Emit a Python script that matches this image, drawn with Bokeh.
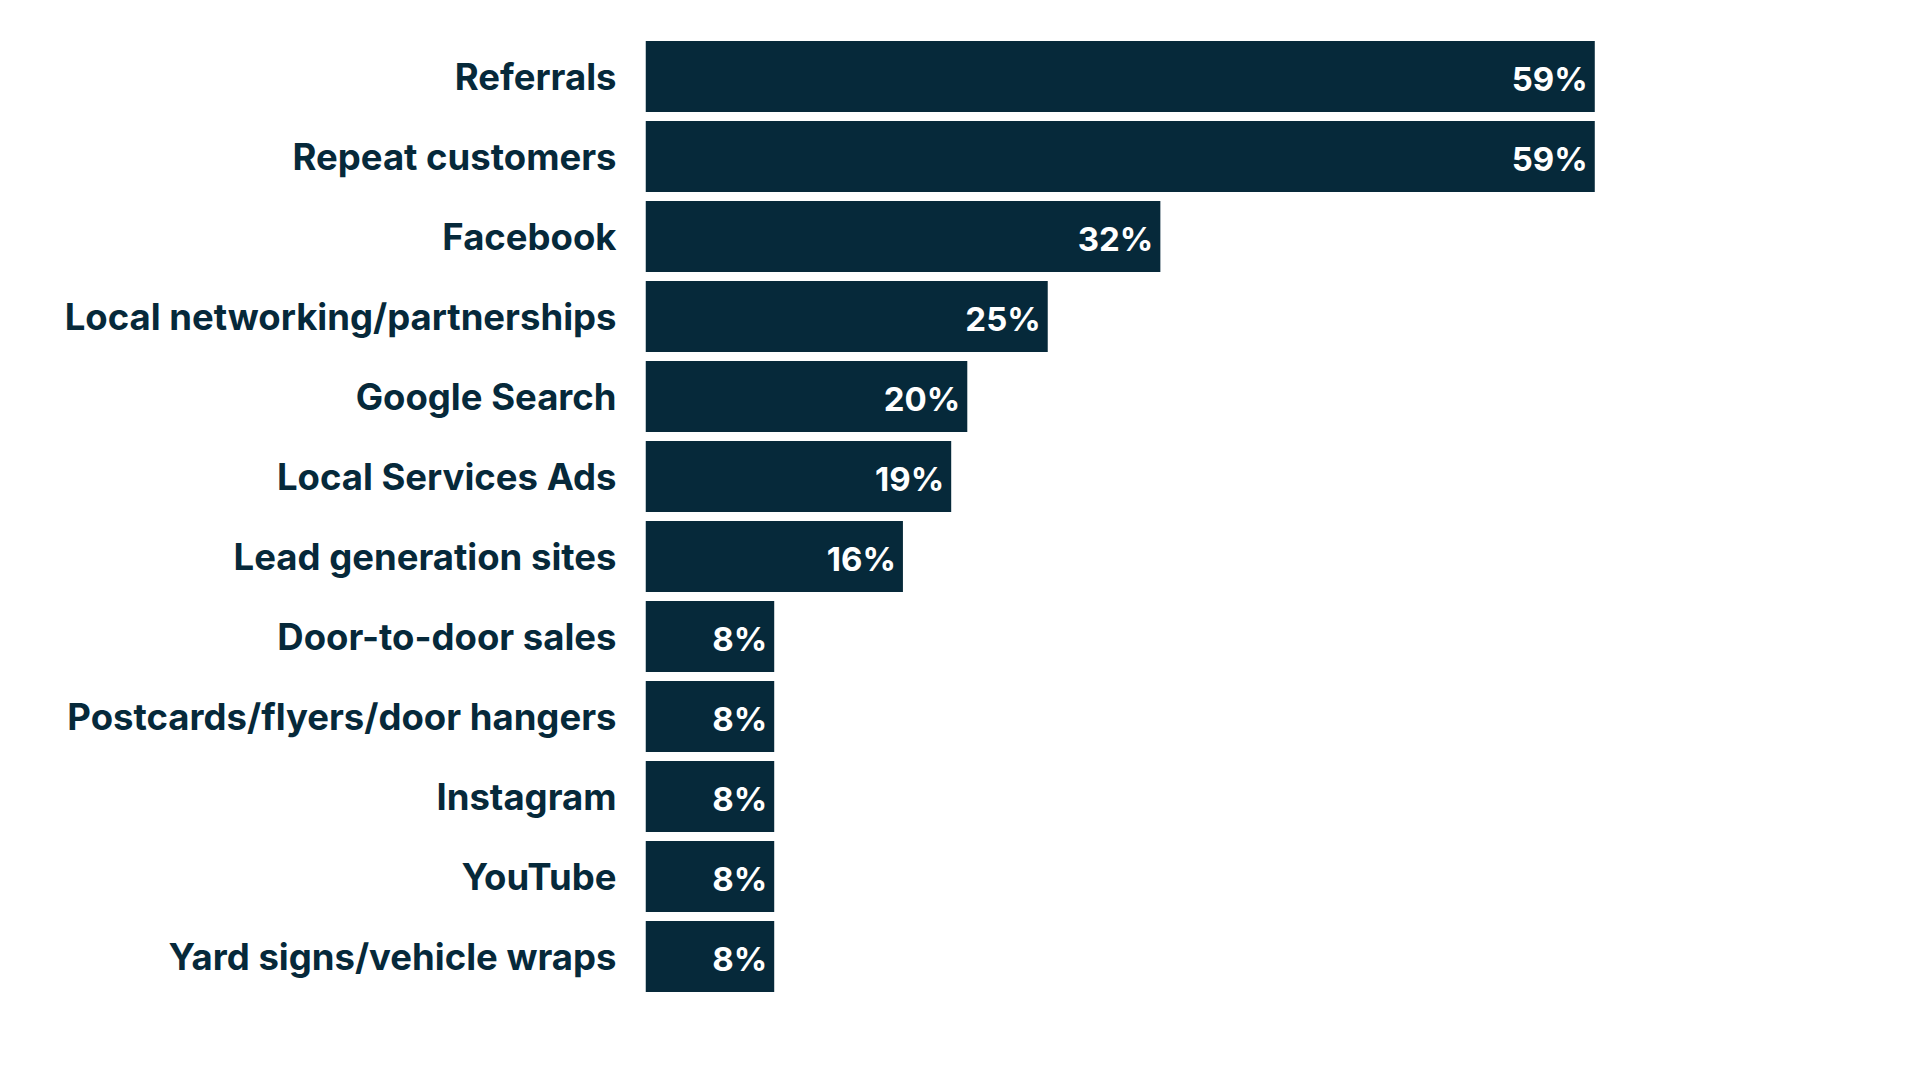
from bokeh.plotting import figure
from bokeh.models import ColumnDataSource, FactorRange, Range1d
from bokeh.core.properties import value
from bokeh.embed import file_html
from bokeh.resources import INLINE

categories = [
    "Referrals",
    "Repeat customers",
    "Facebook",
    "Local networking/partnerships",
    "Google Search",
    "Local Services Ads",
    "Lead generation sites",
    "Door-to-door sales",
    "Postcards/flyers/door hangers",
    "Instagram",
    "YouTube",
    "Yard signs/vehicle wraps",
]
percentages = [59, 59, 32, 25, 20, 19, 16, 8, 8, 8, 8, 8]
value_labels = [f"{v}%" for v in percentages]

NAVY = "#06293a"
FONT = "Inter"

source = ColumnDataSource(dict(cat=categories, pct=percentages, lbl=value_labels))

p = figure(
    width=1904, height=1064,
    y_range=FactorRange(factors=list(reversed(categories)), range_padding=0),
    x_range=Range1d(0, 78.25),
    output_backend="svg", toolbar_location=None,
    min_border_left=645, min_border_right=0,
    min_border_top=36, min_border_bottom=68,
)
p.hbar(y="cat", right="pct", left=0, height=0.89, source=source,
       fill_color=NAVY, line_color=None)
p.text(x="pct", y="cat", text="lbl", source=source,
       x_offset=-7, y_offset=2, text_align="right", text_baseline="middle",
       text_color="white", text_font=value(FONT), text_font_style="bold",
       text_font_size="33px")

p.xaxis.visible = False
p.xgrid.visible = False
p.ygrid.visible = False
p.outline_line_color = None
p.yaxis.axis_line_color = None
p.yaxis.major_tick_line_color = None
p.yaxis.minor_tick_line_color = None
p.yaxis.major_tick_out = 0
p.yaxis.major_tick_in = 0
p.yaxis.major_label_standoff = 29
p.yaxis.major_label_text_font = FONT
p.yaxis.major_label_text_font_style = "bold"
p.yaxis.major_label_text_font_size = "36.5px"
p.yaxis.major_label_text_color = NAVY
p.background_fill_color = "white"
p.border_fill_color = "white"

open("out.html", "w").write(file_html(p, INLINE))
